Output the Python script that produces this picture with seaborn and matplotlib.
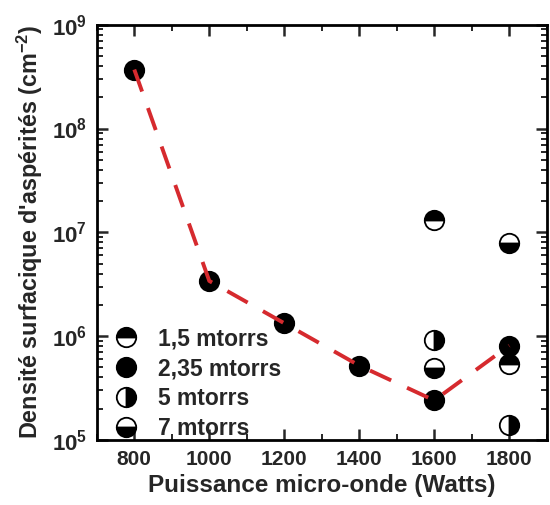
import matplotlib
matplotlib.use("Agg")
import matplotlib.pyplot as plt
import matplotlib.ticker as mticker
import numpy as np
import pandas as pd
import seaborn as sns

# puissance micro-onde (W) et densité d'aspérités (cm-2) par pression
power_235 = [800, 1000, 1200, 1400, 1600, 1800]
dens_235 = [3.7e8, 3.4e6, 1.33e6, 5.2e5, 2.4e5, 8.1e5]

power_15 = [1600, 1800]
dens_15 = [1.3e7, 5.4e5]

power_5 = [1600, 1800]
dens_5 = [9.2e5, 1.4e5]

power_7 = [1600, 1800]
dens_7 = [4.9e5, 7.9e6]

x_ticks = [800, 1000, 1200, 1400, 1600, 1800]


def log_label(v, pos):
    return r"$\mathbf{10^{%d}}$" % int(round(np.log10(v)))


def main() -> None:
    sns.set_theme(style="ticks")
    plt.rcParams["font.family"] = ["Liberation Sans", "DejaVu Sans"]
    plt.rcParams["font.weight"] = "bold"
    plt.rcParams["mathtext.fontset"] = "custom"
    plt.rcParams["mathtext.rm"] = "Liberation Sans:bold"
    plt.rcParams["mathtext.bf"] = "Liberation Sans:bold"

    fig = plt.figure(figsize=(5.5, 5.05), dpi=100)
    ax = fig.add_axes([0.176, 0.129, 0.818, 0.822])

    line_df = pd.DataFrame({"power": power_235, "dens": dens_235})
    sns.lineplot(data=line_df, x="power", y="dens", ax=ax, estimator=None,
                 color="#d62a2e", linewidth=2.8, zorder=3,
                 label="_nolegend_")
    ax.lines[-1].set_dashes([6, 4.5])

    series = [
        ("1,5 mtorrs", power_15, dens_15, "top"),
        ("2,35 mtorrs", power_235, dens_235, "full"),
        ("5 mtorrs", power_5, dens_5, "right"),
        ("7 mtorrs", power_7, dens_7, "bottom"),
    ]
    for label, xs, ys, fill in series:
        df = pd.DataFrame({"power": xs, "dens": ys})
        sns.lineplot(data=df, x="power", y="dens", ax=ax, estimator=None,
                     linestyle="", marker="o", markersize=14,
                     fillstyle=fill, markerfacecolor="black",
                     markerfacecoloralt="white", markeredgecolor="black",
                     markeredgewidth=1.3, color="black", label=label, zorder=2)

    ax.set_yscale("log")
    ax.set_ylim(1e5, 1e9)
    ax.set_xlim(700, 1900)
    ax.set_xticks(x_ticks)
    ax.set_xticks(range(700, 1901, 100), minor=True)
    ax.set_xticklabels([str(t) for t in x_ticks], fontsize=15, fontweight="bold")
    ax.yaxis.set_major_formatter(mticker.FuncFormatter(log_label))
    ax.tick_params(axis="y", which="major", labelsize=16)

    ax.tick_params(which="both", direction="in", top=True, right=True)
    ax.tick_params(which="major", length=8, width=1.8, pad=7)
    ax.tick_params(which="minor", length=4, width=1.4)
    for sp in ax.spines.values():
        sp.set_linewidth(2)
        sp.set_color("black")

    ax.set_xlabel("Puissance micro-onde (Watts)", fontsize=17.5,
                  fontweight="bold", labelpad=4)
    ax.set_ylabel("Densité surfacique d'aspérités (cm$^{\\mathbf{-2}}$)",
                  fontsize=16.8, fontweight="bold", labelpad=5)

    ax.legend(loc="lower left", frameon=False,
              prop={"weight": "bold", "size": 16.5},
              handletextpad=0.8, labelspacing=0.3,
              borderaxespad=0.0, borderpad=0.0,
              bbox_to_anchor=(0.035, 0.0), handlelength=1.2)

    fig.savefig("out.png", dpi=100)
    plt.close(fig)


if __name__ == "__main__":
    main()
